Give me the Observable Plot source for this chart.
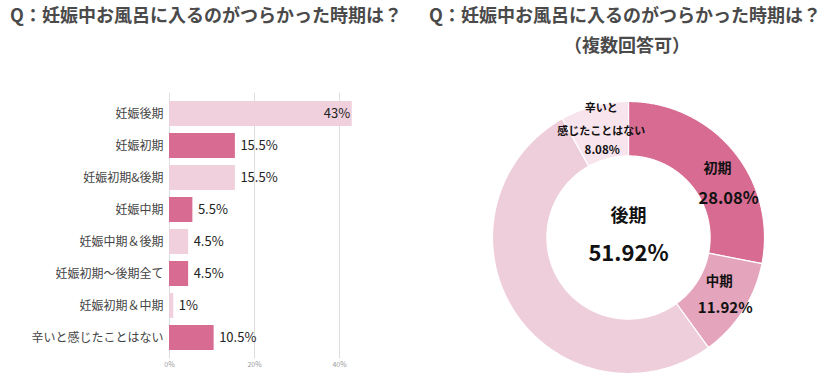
<!DOCTYPE html>
<html>
<head>
<meta charset="utf-8">
<script src="https://cdn.jsdelivr.net/npm/d3@7"></script>
<script src="https://cdn.jsdelivr.net/npm/@observablehq/plot@0.6"></script>
<style>
  html, body { margin: 0; padding: 0; background: #fff; }
  #root { position: relative; width: 837px; height: 389px; overflow: hidden; font-family: 'Noto Sans CJK JP', sans-serif; }
  .title { position: absolute; font-weight: bold; color: #4a4a4a; font-size: 18px; text-align: center; white-space: nowrap; line-height: 1; }
  #bar { position: absolute; left: 0; top: 0; }
  #donut { position: absolute; left: 477.5px; top: 87px; }
</style>
</head>
<body>
<div id="root">
  <div class="title" id="t1" style="left:6px; top:5px; width:400px;"></div>
  <div class="title" id="t2" style="left:425px; top:5px; width:400px;"></div>
  <div class="title" id="t3" style="left:427px; top:35px; width:400px;"></div>
  <div id="bar"></div>
  <div id="donut"></div>
</div>
<script>
// ---------- data ----------
const titleText = "Q：妊娠中お風呂に入るのがつらかった時期は？";
const subtitleText = "（複数回答可）";

const barCategories = ["妊娠後期", "妊娠初期", "妊娠初期&後期", "妊娠中期", "妊娠中期＆後期", "妊娠初期～後期全て", "妊娠初期＆中期", "辛いと感じたことはない"];
const barValues = [43, 15.5, 15.5, 5.5, 4.5, 4.5, 1, 10.5];
const barShade = ["light", "dark", "light", "dark", "light", "dark", "light", "dark"];
const barTicks = [0, 20, 40];

const sliceNames = ["初期", "中期", "後期", "辛いと\n感じたことはない"];
const sliceValues = [28.08, 11.92, 51.92, 8.08];
const sliceColors = ["#d86b91", "#e4a4bc", "#efcedb", "#f8e4ec"];

// ---------- titles ----------
document.getElementById("t1").textContent = titleText;
document.getElementById("t2").textContent = titleText;
document.getElementById("t3").textContent = subtitleText;

const font = "'Noto Sans CJK JP', 'Noto Sans', sans-serif";

// ---------- bar chart ----------
const bars = barCategories.map((c, i) => ({cat: c, value: barValues[i], shade: barShade[i]}));

const barChart = Plot.plot({
  width: 420,
  height: 389,
  marginLeft: 169,
  marginRight: 59.75,
  marginTop: 92.7,
  marginBottom: 30.7,
  style: {fontFamily: font, background: "transparent"},
  x: {domain: [0, 45], label: null},
  y: {domain: barCategories, padding: 0.226, label: null},
  color: {domain: ["light", "dark"], range: ["#f0d0dd", "#d86b91"]},
  marks: [
    Plot.gridX(barTicks, {stroke: "#dddddd", strokeOpacity: 1}),
    Plot.barX(bars, {x: "value", y: "cat", fill: "shade"}),
    Plot.axisX(barTicks, {tickSize: 0, tickPadding: 3, fontSize: 7, fill: "#999", label: null, tickFormat: d => d + "%"}),
    Plot.axisY({tickSize: 0, tickPadding: 6, fontSize: 12, fill: "#444", label: null}),
    Plot.text(bars.filter(d => d.value >= 40), {x: "value", y: "cat", text: d => d.value + "%", textAnchor: "end", dx: -2, fontSize: 13, fill: "#222"}),
    Plot.text(bars.filter(d => d.value < 40), {x: "value", y: "cat", text: d => d.value + "%", textAnchor: "start", dx: 5, fontSize: 13, fill: "#222"})
  ]
});
document.getElementById("bar").appendChild(barChart);

// ---------- donut ----------
const inner = 0.6, outer = 1;
const total = d3.sum(sliceValues);
let acc = 0;
const slices = sliceNames.map((n, i) => {
  const a0 = acc / total * 2 * Math.PI;
  acc += sliceValues[i];
  const a1 = acc / total * 2 * Math.PI;
  return {name: n, value: sliceValues[i], a0, a1, mid: (a0 + a1) / 2};
});
const pts = [];
for (const s of slices) {
  const n = Math.max(8, Math.ceil((s.a1 - s.a0) / (Math.PI / 360)));
  for (let k = 0; k <= n; k++) {
    const a = s.a0 + (s.a1 - s.a0) * k / n;
    pts.push({name: s.name, x: outer * Math.sin(a), y: outer * Math.cos(a)});
  }
  for (let k = n; k >= 0; k--) {
    const a = s.a0 + (s.a1 - s.a0) * k / n;
    pts.push({name: s.name, x: inner * Math.sin(a), y: inner * Math.cos(a)});
  }
  pts.push({name: s.name, x: outer * Math.sin(s.a0), y: outer * Math.cos(s.a0)});
}
const rMid = (inner + outer) / 2;
const labels = slices.map(s => ({
  name: s.name,
  value: s.value.toFixed(2) + "%",
  x: s.name === "後期" ? 0 : rMid * Math.sin(s.mid),
  y: s.name === "後期" ? 0 : rMid * Math.cos(s.mid)
}));
const byName = n => labels.filter(d => d.name === n);

const donut = Plot.plot({
  width: 300,
  height: 300,
  margin: 14,
  style: {fontFamily: font, background: "transparent"},
  x: {domain: [-1, 1], axis: null},
  y: {domain: [-1, 1], axis: null},
  color: {domain: sliceNames, range: sliceColors},
  marks: [
    Plot.line(pts, {x: "x", y: "y", z: "name", fill: "name", stroke: "white", strokeWidth: 1.2, curve: "linear"}),
    // 初期
    Plot.text(byName("初期"), {x: "x", y: "y", text: "name", dx: 5, dy: 0, fontSize: 14, fontWeight: "bold", fill: "#111"}),
    Plot.text(byName("初期"), {x: "x", y: "y", text: "value", dx: 16, dy: 30, fontSize: 16.5, fontWeight: "bold", fill: "#111"}),
    // 中期
    Plot.text(byName("中期"), {x: "x", y: "y", text: "name", dx: -1, dy: -14, fontSize: 13.5, fontWeight: "bold", fill: "#111"}),
    Plot.text(byName("中期"), {x: "x", y: "y", text: "value", dx: 5, dy: 12, fontSize: 15, fontWeight: "bold", fill: "#111"}),
    // 後期 (centre)
    Plot.text(byName("後期"), {x: "x", y: "y", text: "name", dy: -21, fontSize: 18, fontWeight: "bold", fill: "#111"}),
    Plot.text(byName("後期"), {x: "x", y: "y", text: "value", dy: 16, fontSize: 22, fontWeight: "bold", fill: "#111"}),
    // 辛いと感じたことはない
    Plot.text(byName("辛いと\n感じたことはない"), {x: "x", y: "y", text: "name", dx: 0, dy: -16, fontSize: 11, lineHeight: 2.1, fontWeight: "bold", fill: "#111"}),
    Plot.text(byName("辛いと\n感じたことはない"), {x: "x", y: "y", text: "value", dx: 1, dy: 18, fontSize: 11.5, fontWeight: "bold", fill: "#111"})
  ]
});
document.getElementById("donut").appendChild(donut);
</script>
</body>
</html>
